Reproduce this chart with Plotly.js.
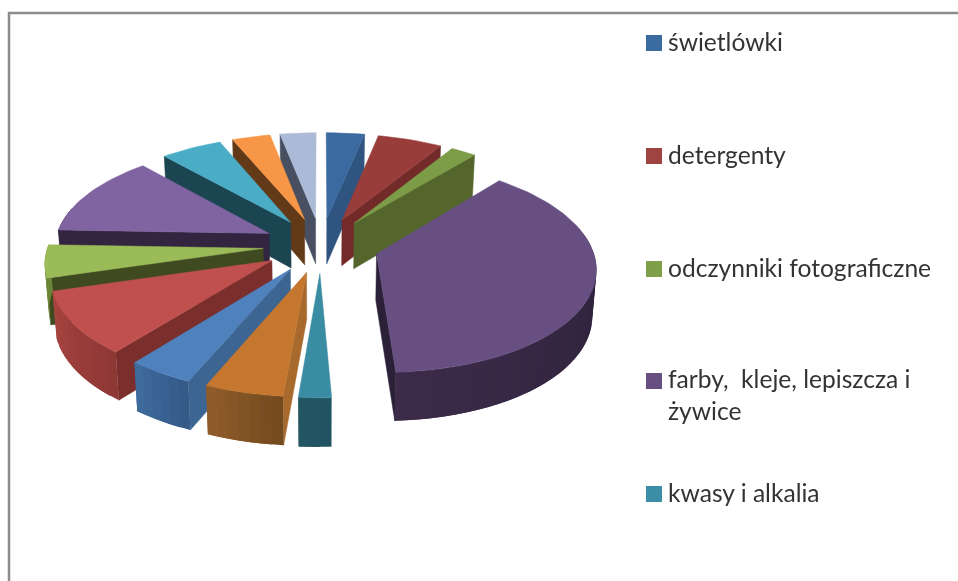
<!DOCTYPE html>
<html>
<head>
<meta charset="utf-8">
<script src="https://cdn.plot.ly/plotly-3.0.1.min.js"></script>
<style>html,body{margin:0;padding:0;background:#fff;overflow:hidden}#chart{width:958px;height:581px;filter:blur(0.45px)}</style>
</head>
<body>
<div id="chart"></div>
<script>
// --- data (percent of the pie, clockwise from 12 o'clock)
const categories = ['świetlówki','detergenty','odczynniki fotograficzne','farby,\u00a0 kleje, lepiszcza i<br>żywice','kwasy i alkalia',
  'kategoria 6','kategoria 7','kategoria 8','kategoria 9','kategoria 10','kategoria 11','kategoria 12','kategoria 13'];
const values = [3.3,5.6,2.2,38.3,2.1,5.1,4.3,9.8,5.1,12.8,5.3,3.3,3.1];

// --- styles
const topColors  = ['#3B6AA0','#983D3A','#7D9C47','#674F82','#3A8CA3','#C5762F','#4F81BD','#C0504D','#9BBB59','#8064A2','#4BACC6','#F79646','#AABAD7'];
const sideColors = ['#2F5480','#722B29','#54662C','#2A2139','#215362','#A76A2C','#3C6591','#7A2F2D','#404A20','#33253F','#1C4552','#633A18','#474F60'];
const wallFrom   = ['#2F5480','#722B29','#54662C','#2A2139','#215362','#744A1F','#345A88','#8E3836','#6B8536','#33253F','#1C4552','#633A18','#474F60'];
const wallTo     = ['#2F5480','#722B29','#54662C','#3C2B49','#235663','#8F5C29','#3F6A9C','#A8443F','#6B8536','#33253F','#1C4552','#633A18','#474F60'];
const legendCount = 5;
const legendColors = ['#3A6CA2','#A04441','#7F9F4A','#674F82','#3B8EA5'];
const legendY = [43,156,269,381,494];
const legendTextY = [41,154,267,394,492];

// --- projection of the tilted pie
const cx=321, cy=245, a=215, b=102, p=0.12, explode=0.27, depth=46, bottomShrink=0.985;
const project=(u,v)=>{const s=1/(1+p*v);return [cx+a*u*s, cy-b*v*s];};
const projectLow=(u,v)=>{const s=1/(1+p*v);return [cx+a*u*s*bottomShrink, cy-b*v*s+depth*Math.pow(s,0.4)];};
const rad=d=>d*Math.PI/180;
const hex=c=>[1,3,5].map(i=>parseInt(c.substr(i,2),16));
const mix=(c0,c1,t)=>{const A=hex(c0),B=hex(c1);return 'rgb('+A.map((x,i)=>Math.round(x+(B[i]-x)*t)).join(',')+')';};

const total=values.reduce((s,v)=>s+v,0);
let acc=0;
const slices=values.map((val,i)=>{
  const start=acc/total*360; acc+=val; const end=acc/total*360;
  const mid=(start+end)/2;
  return {i,start,end,mid,ax:explode*Math.sin(rad(mid)),ay:explode*Math.cos(rad(mid))};
});
const pt=(s,th)=>[s.ax+Math.sin(rad(th)),s.ay+Math.cos(rad(th))];

const traces=[];
function poly(points,color,lw){
  const xs=points.map(q=>q[0]).concat([points[0][0]]);
  const ys=points.map(q=>q[1]).concat([points[0][1]]);
  traces.push({type:'scatter',mode:'lines',x:xs,y:ys,fill:'toself',fillcolor:color,
    line:{color:color,width:lw},hoverinfo:'skip',showlegend:false});
}
function radialWall(s,th,color){
  const e=pt(s,th);
  poly([project(s.ax,s.ay),project(e[0],e[1]),projectLow(e[0],e[1]),projectLow(s.ax,s.ay)],color,0.5);
}
// painter's order: back slices first
slices.slice().sort((m,n)=>Math.cos(rad(n.mid))-Math.cos(rad(m.mid))).forEach(s=>{
  const i=s.i;
  if(Math.sin(rad(s.start))<0) radialWall(s,s.start,sideColors[i]);
  if(Math.sin(rad(s.end))>0)  radialWall(s,s.end,sideColors[i]);
  // curved outer wall with stepped shading; each step overlaps the next so no seams show
  const t0=Math.max(s.start,75), t1=Math.min(s.end,285);
  if(t1>t0){
    const n=Math.max(2,Math.ceil((t1-t0)/3));
    for(let k=0;k<n;k++){
      const A=t0+(t1-t0)*k/n, B=t0+(t1-t0)*(k===n-1?1:(k+2)/n);
      const top=[],low=[];
      for(let j=0;j<=6;j++){
        const q=pt(s,A+(B-A)*j/6);
        top.push(project(q[0],q[1])); low.unshift(projectLow(q[0],q[1]));
      }
      poly(top.concat(low),mix(wallFrom[i],wallTo[i],k/(n-1)),0);
    }
  }
  // top face
  const face=[project(s.ax,s.ay)];
  const m=Math.ceil((s.end-s.start)/2);
  for(let j=0;j<=m;j++){const q=pt(s,s.start+(s.end-s.start)*j/m);face.push(project(q[0],q[1]));}
  poly(face,topColors[i],0.5);
});

// legend
const annotations=[];
for(let i=0;i<legendCount;i++){
  traces.push({type:'scatter',mode:'markers',x:[654],y:[legendY[i]],
    marker:{symbol:'square',size:16,color:legendColors[i],line:{width:0}},hoverinfo:'skip',showlegend:false});
  annotations.push({x:666,y:legendTextY[i],xref:'x',yref:'y',xanchor:'left',yanchor:'middle',align:'left',showarrow:false,
    text:categories[i],font:{family:'Lato, sans-serif',size:24.6,color:'#333333'}});
}

const layout={
  width:958,height:581,margin:{l:0,r:0,t:0,b:0},paper_bgcolor:'#fff',plot_bgcolor:'#fff',showlegend:false,
  xaxis:{range:[0,958],visible:false,fixedrange:true},
  yaxis:{range:[581,0],visible:false,fixedrange:true},
  annotations:annotations,
  shapes:[{type:'path',path:'M 9 581 L 9 13 L 958 13',xref:'x',yref:'y',line:{color:'#8c8c8c',width:2.5}}]
};
Plotly.newPlot('chart',traces,layout,{displayModeBar:false,staticPlot:true});
</script>
</body>
</html>
